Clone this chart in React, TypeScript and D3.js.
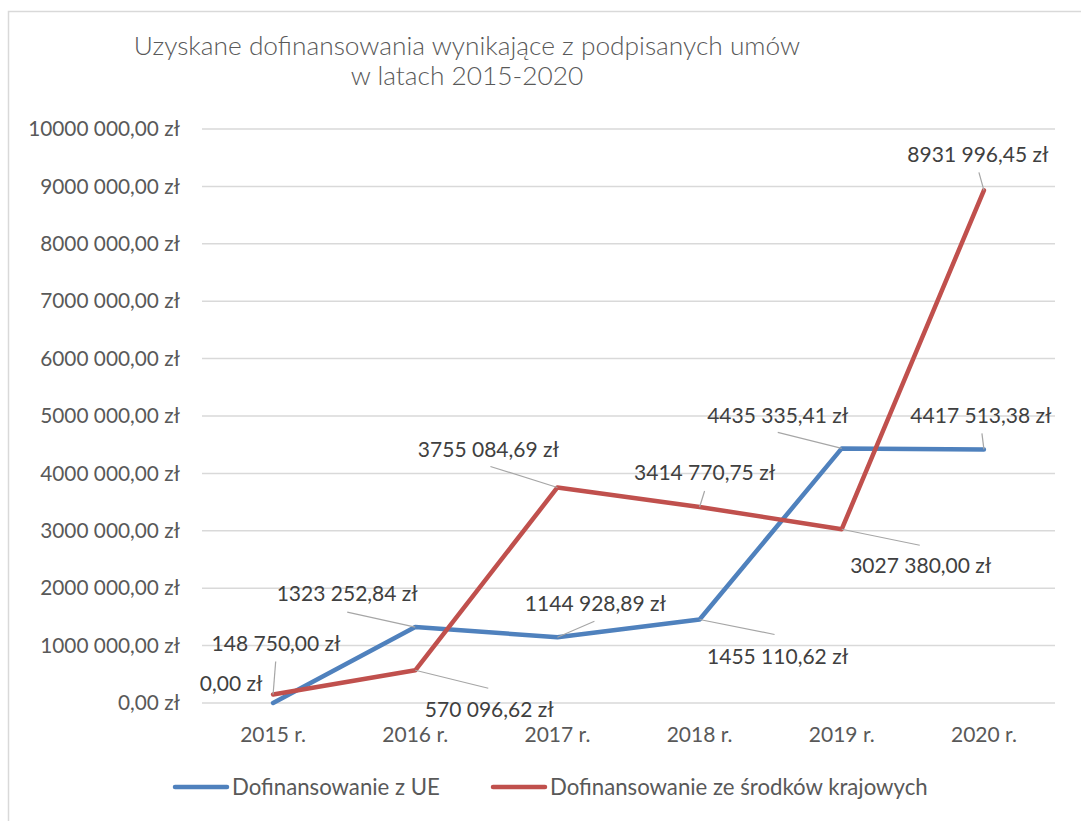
import React from 'react';
import * as d3 from 'd3';

const years = ['2015 r.', '2016 r.', '2017 r.', '2018 r.', '2019 r.', '2020 r.'];
const ueValues = [0, 1323252.84, 1144928.89, 1455110.62, 4435335.41, 4417513.38];
const krajValues = [148750, 570096.62, 3755084.69, 3414770.75, 3027380.0, 8931996.45];
const yTicks = [0, 1000000, 2000000, 3000000, 4000000, 5000000, 6000000, 7000000, 8000000, 9000000, 10000000];
const seriesNames = ['Dofinansowanie z UE', 'Dofinansowanie ze środków krajowych'];
const titleLines = ['Uzyskane dofinansowania wynikające z podpisanych umów', 'w latach 2015-2020'];

// label placement relative to the point: [dx, dy] of text centre, leader start or null
const ueLabelPos: [number, number, number[] | null][] = [
  [-42, -19, null],
  [-68, -33, [-68, -15]],
  [38, -34, [37, -16]],
  [78, 37, [75, 15]],
  [-64, -33, [-64, -16]],
  [-3, -34, [-2, -16]],
];
const krajLabelPos: [number, number, number[] | null][] = [
  [3, -51, [2.6, -33]],
  [74, 39, [73, 18]],
  [-69, -38, [-67, -21]],
  [5, -34, [5, -16]],
  [79, 36, [78, 16]],
  [-6, -36, [-5, -18]],
];

const W = 1081;
const H = 821;
const margin = { top: 129, right: 26, bottom: 118, left: 202 };
const FONT = 'Lato, "Open Sans", sans-serif';
const BLUE = '#4F81BD';
const RED = '#C0504D';

const pad3 = (n: number) => String(n).padStart(3, '0');
const fmtMoney = (v: number) => {
  const cents = Math.round(v * 100);
  const int = Math.floor(cents / 100);
  const dec = String(cents % 100).padStart(2, '0');
  const head = int >= 1000 ? `${Math.floor(int / 1000)} ${pad3(int % 1000)}` : String(int);
  return `${head},${dec} zł`;
};

const App: React.FC = () => {
  const x = d3.scaleBand().domain(years).range([margin.left, W - margin.right]);
  const y = d3.scaleLinear().domain([0, 10000000]).range([H - margin.bottom, margin.top]);
  const cx = (i: number) => (x(years[i]) || 0) + x.bandwidth() / 2;

  const line = d3.line<number>()
    .x((_, i) => cx(i))
    .y(d => y(d));

  const series = [
    { values: ueValues, color: BLUE, pos: ueLabelPos },
    { values: krajValues, color: RED, pos: krajLabelPos },
  ];

  return (
    <svg width={W} height={H} style={{ position: 'absolute', left: 0, top: 0 }} fontFamily={FONT}>
      <rect x={0} y={0} width={W} height={H} fill="#fff" />
      <rect x={8.5} y={11.5} width={W + 20} height={H + 20} fill="none" stroke="#D9D9D9" strokeWidth={1.5} />

      {titleLines.map((t, i) => (
        <text key={i} x={467} y={55 + i * 30} textAnchor="middle" fontSize={26.3} fontWeight={300} fill="#595959">{t}</text>
      ))}

      {/* gridlines and y labels */}
      {yTicks.map(t => (
        <g key={t}>
          <line x1={margin.left} x2={W - margin.right} y1={y(t)} y2={y(t)} stroke="#D9D9D9" strokeWidth={1.5} />
          <text x={180} y={y(t)} dy="0.35em" textAnchor="end" fontSize={20.8} fill="#595959">
            {t === 0 ? '0,00 zł' : `${Math.floor(t / 1000)} ${pad3(t % 1000)},00 zł`}
          </text>
        </g>
      ))}

      {years.map((yr, i) => (
        <text key={yr} x={cx(i)} y={742} textAnchor="middle" fontSize={21} fill="#595959">{yr}</text>
      ))}

      {/* lines */}
      {series.map((s, k) => (
        <path key={k} d={line(s.values) || ''} fill="none" stroke={s.color} strokeWidth={4.5}
          strokeLinejoin="round" strokeLinecap="round" />
      ))}

      {/* data labels */}
      {series.map((s, k) => (
        <g key={k}>
          {s.values.map((v, i) => {
            const px = cx(i);
            const py = y(v);
            const [dx, dy, ld] = s.pos[i];
            return (
              <g key={i}>
                {ld && (
                  <line x1={px + ld[0]} y1={py + ld[1]} x2={px} y2={py} stroke="#A6A6A6" strokeWidth={1.2} />
                )}
                <text x={px + dx} y={py + dy} dy="0.35em" textAnchor="middle" fontSize={21} fill="#404040">
                  {fmtMoney(v)}
                </text>
              </g>
            );
          })}
        </g>
      ))}

      {/* legend */}
      {series.map((s, k) => {
        const lx = k === 0 ? 175 : 493;
        return (
          <g key={k}>
            <line x1={lx} x2={lx + 52} y1={787} y2={787} stroke={s.color} strokeWidth={4.5} strokeLinecap="round" />
            <text x={lx + 57} y={787} dy="0.35em" fontSize={22.2} fill="#595959">{seriesNames[k]}</text>
          </g>
        );
      })}
    </svg>
  );
};

export default App;
